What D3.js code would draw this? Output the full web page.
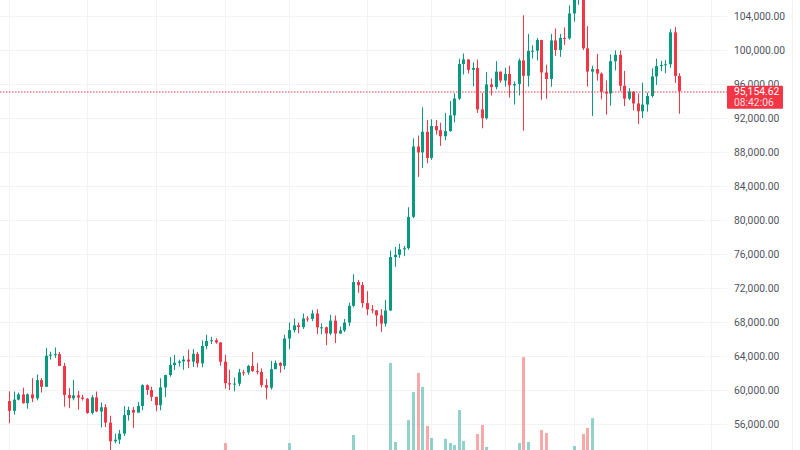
<!DOCTYPE html>
<html><head><meta charset="utf-8">
<script src="https://cdn.jsdelivr.net/npm/d3@7"></script>
<style>html,body{margin:0;padding:0;background:#fff;overflow:hidden}svg{display:block}</style>
</head><body>
<svg id="chart" width="800" height="450"></svg>
<script>
// ---- data: BTC daily candles, 2024-08-15 .. 2025-01-08 ----
const firstDay = "2024-08-15";
const lastDay = "2025-01-08";
const open = [
58700,57550,58870,59480,58450,59490,59010,61160,60380,64040,64160,64220,62830,59410,59030,59370,59120,
58970,57300,59130,57480,57970,56160,53960,54160,54870,57040,57650,57340,58130,60570,60000,59190,58210,60310,61760,62950,63200,63350,63580,63340,64260,63140,65180,65770,65860,65600,
63330,60800,60650,60750,62080,62060,62820,62220,62130,60580,60270,62450,63190,62850,66050,67040,67610,67400,68420,68360,69000,67370,67380,66650,68160,66640,67010,67930,69900,72700,72330,
70220,69490,69370,68780,67810,69360,75640,75900,76550,76680,80370,88650,87950,90380,87300,91060,90560,89850,90460,92310,94290,98350,98890,97670,97900,93010,91970,95950,95640,97460,
96410,97190,95840,96000,98770,96970,99900,99920,101170,97360,96590,101120,100000,101420,101370,104300,106060,106140,100200,97460,97760,97220,95100,94880,98680,99430,95790,94280,95100,93710,92790,
93580,94590,96890,98110,98240,98320,102080,96950];
const high = [
59850,59800,59700,60270,59600,61400,61820,61400,64950,64500,65000,64480,63200,60230,61180,59900,59450,
59060,59400,59820,58520,58330,56980,54850,55300,58100,58040,57990,58600,60670,60660,60380,59210,61380,61790,63880,64130,63560,64000,64750,64810,64480,65840,66500,66260,66080,65620,
64130,62390,61470,62480,62370,62970,64480,63170,62540,61320,63420,63480,63280,66500,67950,68420,67940,69000,68690,69400,69500,67840,67470,68850,68770,67450,68350,70270,73620,72950,72700,
71630,70000,69390,69500,70580,76400,76850,77200,76940,81500,89600,89940,93260,91760,91850,91760,91440,92600,94000,94900,98980,99590,98900,98550,98870,94970,97400,96650,98690,97460,
97900,98150,96300,99000,104090,101900,100550,101400,101200,98270,101900,102540,101900,102650,105250,107790,108350,106500,102800,98150,99540,97360,96420,99480,99960,99960,97540,95520,95180,94900,96160,
95000,97840,98980,98730,98800,102480,102720,97270];
const low = [
56100,57100,58780,58400,57800,58580,58780,59700,60350,63580,63780,62800,58030,57860,58780,57700,58760,
57200,57120,57400,55600,55640,52550,53740,53650,54590,56400,55550,57320,57630,59420,58700,57500,57610,59170,61570,62350,62760,62380,62560,62700,62670,62670,64800,65420,65440,62860,
60160,60000,59830,60460,61680,61800,62130,61850,60300,58900,60050,62450,62040,62420,64800,66750,66670,67180,68020,68100,66570,66570,65260,66450,65520,66600,66830,67520,69730,71430,69690,
68800,69020,67480,66840,67460,69300,74500,75560,75750,76500,80220,85070,86130,86670,87080,90050,88720,89380,90370,91500,94110,97120,97240,95740,92600,90790,91820,94650,95380,96150,
95700,94400,93580,94660,90500,95700,99000,98770,94150,94260,95680,99310,99200,100600,101220,103330,105320,100000,95700,92230,96400,94200,92400,93450,97600,95140,93400,94100,92880,91300,92000,
92750,94400,95890,97500,97270,97900,96130,92500];
const close = [
57550,58870,59480,58450,59490,59010,61160,60380,64040,64160,64220,62830,59410,59030,59370,59120,58970,
57300,59130,57480,57970,56160,53960,54160,54870,57040,57650,57340,58130,60570,60000,59190,58210,60310,61760,62950,63200,63350,63580,63340,64260,63140,65180,65770,65860,65600,63330,
60800,60650,60750,62080,62060,62820,62220,62130,60580,60270,62450,63190,62850,66050,67040,67610,67400,68420,68360,69000,67370,67380,66650,68160,66640,67010,67930,69900,72700,72330,70220,
69490,69370,68780,67810,69360,75640,75900,76550,76680,80370,88650,87950,90380,87300,91060,90560,89850,90460,92310,94290,98350,98890,97670,97900,93010,91970,95950,95640,97460,96410,
97190,95840,96000,98770,96970,99900,99920,101170,97360,96590,101120,100000,101420,101370,104300,106060,106140,100200,97460,97760,97220,95100,94880,98680,99430,95790,94280,95100,93710,92790,93580,
94590,96890,98110,98240,98320,102080,96950,95154.62];
const volume = [
30,22,9,11,19,24,26,20,37,12,10,19,32,35,27,24,8,
12,22,24,31,25,36,11,10,26,22,27,22,28,9,10,26,30,36,31,25,7,10,20,19,17,25,23,7,8,30,
43.8,33,24,21,7,8,24,18,21,27,22,9,10,37,43.8,30,21,24,8,11,30,20,23,22,33,9,8,27,50,27,31,
33,10,17,30,29,105.4,44.6,26,11,61.5,83,97.7,87,57,47.7,24,28,47,43.8,42.3,69.2,45.4,28,26,50.8,57.7,40.8,22,28,13,
15,36,34,43.8,110,44.6,14,15,53.8,51.5,37,34,30,16,24,41.5,36,50.8,55.4,63,28,20,33,25,14,32,30,12,15,32,29,
15,26,21,11,10,35,37,27];
const priceTicks = [56000,60000,64000,68000,72000,76000,80000,84000,88000,92000,96000,100000,104000];
const gridDates = ["2024-08-15","2024-09-01","2024-09-16","2024-10-01","2024-10-15","2024-11-01","2024-11-15","2024-12-01","2024-12-16","2025-01-01","2025-01-15"];
const lastPriceLabel = "95,154.62";
const countdownLabel = "08:42:06";

// ---- layout ----
const W = 800, H = 450;
const paneRight = 727;
const parse = d3.utcParse("%Y-%m-%d");
const days = d3.utcDay.range(parse(firstDay), d3.utcDay.offset(parse(lastDay), 1));
const candles = days.map((d, i) => ({date: d, o: open[i], h: high[i], l: low[i], c: close[i], v: volume[i]}));

const x = d3.scaleUtc().domain([parse(firstDay), parse(lastDay)]).range([9, 679.2]);
const y = d3.scaleLinear().domain([56000, 104000]).range([424, 16]);
const yv = d3.scaleLinear().domain([0, d3.max(volume)]).range([500, 357]);

const UP = "#089981", DOWN = "#f23645";
const UPV = "rgba(38,166,154,0.5)", DOWNV = "rgba(239,83,80,0.5)";
const GRID = "#f2f3f5";

const svg = d3.select("#chart");
svg.append("rect").attr("width", W).attr("height", H).attr("fill", "#fff");

svg.append("defs").append("clipPath").attr("id", "pane")
  .append("rect").attr("x", 0).attr("y", 0).attr("width", paneRight).attr("height", H);

// grid
const grid = svg.append("g").attr("shape-rendering", "crispEdges");
grid.selectAll("line.h").data(priceTicks).join("line")
  .attr("x1", 0).attr("x2", paneRight)
  .attr("y1", d => Math.round(y(d)) + 0.5).attr("y2", d => Math.round(y(d)) + 0.5)
  .attr("stroke", GRID).attr("stroke-width", 1);
grid.selectAll("line.v").data(gridDates.map(parse)).join("line")
  .attr("x1", d => Math.round(x(d)) + 0.5).attr("x2", d => Math.round(x(d)) + 0.5)
  .attr("y1", 0).attr("y2", H)
  .attr("stroke", GRID).attr("stroke-width", 1);

const pane = svg.append("g").attr("clip-path", "url(#pane)");

// volume
pane.append("g").selectAll("rect").data(candles).join("rect")
  .attr("x", d => Math.round(x(d.date)) - 1)
  .attr("width", 3)
  .attr("y", d => yv(d.v))
  .attr("height", d => yv(0) - yv(d.v))
  .attr("fill", d => d.c >= d.o ? UPV : DOWNV);

// candles
const cg = pane.append("g").selectAll("g").data(candles).join("g");
cg.append("line")
  .attr("x1", d => Math.round(x(d.date)) + 0.5).attr("x2", d => Math.round(x(d.date)) + 0.5)
  .attr("y1", d => y(d.h)).attr("y2", d => y(d.l))
  .attr("stroke", d => d.c >= d.o ? UP : DOWN).attr("stroke-width", 1);
cg.append("rect")
  .attr("x", d => Math.round(x(d.date)) - 1)
  .attr("width", 3)
  .attr("y", d => y(Math.max(d.o, d.c)))
  .attr("height", d => Math.max(1, Math.abs(y(d.o) - y(d.c))))
  .attr("fill", d => d.c >= d.o ? UP : DOWN);

// last price line (dotted, red, soft)
const lastClose = close[close.length - 1];
const ly = y(lastClose);
pane.append("line")
  .attr("x1", 0).attr("x2", paneRight)
  .attr("y1", Math.round(ly) + 1).attr("y2", Math.round(ly) + 1)
  .attr("stroke", DOWN).attr("stroke-width", 1.2).attr("stroke-dasharray", "1.5,1.5");

// price axis labels (the 96,000 label sits partly under the last-price badge, as in the reference)
const fmt = d3.format(",.2f");
svg.append("g").selectAll("text").data(priceTicks).join("text")
  .attr("x", 734).attr("y", d => y(d)).attr("dy", "0.36em")
  .attr("font-family", "Roboto, 'Liberation Sans', sans-serif").attr("font-size", 10.3)
  .attr("fill", "#50535e")
  .text(d => fmt(d));

// right edge line
svg.append("line").attr("x1", 792.5).attr("x2", 792.5).attr("y1", 0).attr("y2", H)
  .attr("stroke", GRID);

// last price badge
svg.append("rect").attr("x", 727).attr("y", ly - 5.5).attr("width", 56).attr("height", 23)
  .attr("fill", DOWN).attr("rx", 1);
svg.append("text").attr("x", 734).attr("y", ly).attr("dy", "0.36em")
  .attr("font-family", "Roboto, 'Liberation Sans', sans-serif").attr("font-size", 10.3)
  .attr("fill", "#fff").text(lastPriceLabel);
svg.append("text").attr("x", 734).attr("y", ly + 11.3).attr("dy", "0.36em")
  .attr("font-family", "Roboto, 'Liberation Sans', sans-serif").attr("font-size", 10.3)
  .attr("fill", "#fff").attr("fill-opacity", 0.85).text(countdownLabel);
</script>
</body></html>
